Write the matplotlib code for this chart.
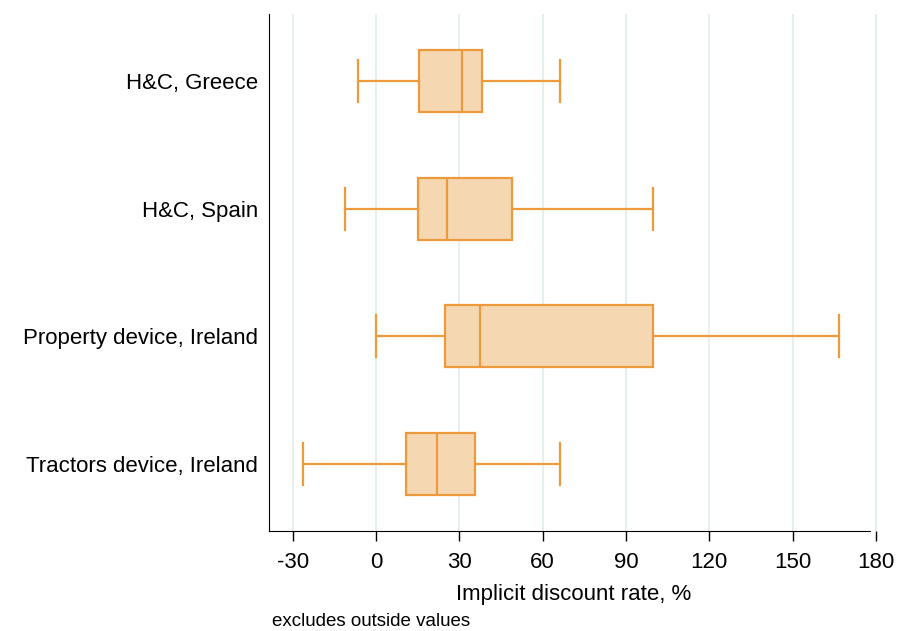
import matplotlib
matplotlib.use("Agg")
import matplotlib.pyplot as plt

plt.rcParams['font.family'] = ['Liberation Sans', 'DejaVu Sans']

categories = ["H&C, Greece", "H&C, Spain", "Property device, Ireland", "Tractors device, Ireland"]
whisker_low = [-6.6, -11.0, 0.0, -26.2]
q1 = [15.4, 15.3, 25.0, 10.9]
median = [31.1, 25.4, 37.6, 21.8]
q3 = [38.2, 48.8, 99.8, 35.5]
whisker_high = [66.4, 99.9, 166.7, 66.4]
xticks = [-30, 0, 30, 60, 90, 120, 150, 180]

fig = plt.figure(figsize=(8.98, 6.31), dpi=100)
W, H = 898, 631
ax = fig.add_axes([269 / W, 1 - 531 / H, (877.4 - 269) / W, (531 - 14) / H])

stats = []
for i, c in enumerate(categories):
    stats.append(dict(label=c, whislo=whisker_low[i], q1=q1[i], med=median[i],
                      q3=q3[i], whishi=whisker_high[i], fliers=[]))

positions = list(range(1, len(categories) + 1))
edge = '#ec9a3c'
ax.bxp(stats, positions=positions, vert=False, widths=0.486, capwidths=0.33,
       patch_artist=True, showfliers=False,
       boxprops=dict(facecolor='#f5d8b2', edgecolor=edge, linewidth=1.6),
       medianprops=dict(color=edge, linewidth=1.6),
       whiskerprops=dict(color=edge, linewidth=1.6),
       capprops=dict(color=edge, linewidth=1.6))

ax.set_ylim(4.525, 0.475)
ax.set_xlim(-38.5, 180.5)
ax.set_xticks(xticks)
ax.set_xticklabels([str(t) for t in xticks])
ax.set_yticks(positions)
ax.set_yticklabels(categories)

ax.grid(axis='x', color='#e4eeee', linewidth=1.3)
ax.grid(axis='y', visible=False)
ax.set_axisbelow(True)

for s in ['top', 'right']:
    ax.spines[s].set_visible(False)
ax.spines['bottom'].set_bounds(-38.5, 178)
ax.spines['left'].set_color('black')
ax.spines['bottom'].set_color('black')

ax.tick_params(axis='y', length=0, pad=8, labelsize=16)
ax.tick_params(axis='x', length=7, width=1, pad=8, labelsize=16)

ax.set_xlabel("Implicit discount rate, %", fontsize=16, labelpad=8)
fig.text(272 / W, 1 - 622 / H, "excludes outside values", fontsize=13.5, va='center', ha='left')

fig.savefig("out.png", dpi=100)
